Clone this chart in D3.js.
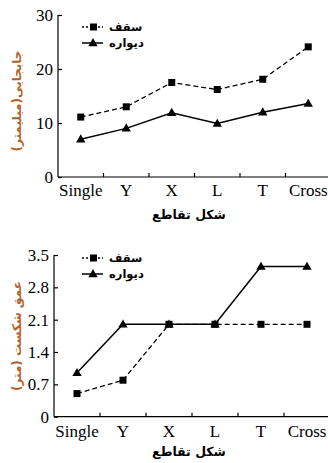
<!DOCTYPE html>
<html><head><meta charset="utf-8">
<script src="https://cdn.jsdelivr.net/npm/d3@7"></script>
<style>
html,body{margin:0;padding:0;background:#fff;}
svg{display:block;}
</style></head>
<body>
<svg id="c" width="328" height="463"></svg>
<script>
// Intersection shapes along the x axis
const categories = ["Single", "Y", "X", "L", "T", "Cross"];

// Upper panel: displacement (mm)
const dispRoof = [11.1, 13.0, 17.5, 16.2, 18.1, 24.1];
const dispWall = [7.0, 9.0, 11.9, 9.9, 12.0, 13.6];
const dispTicks = [0, 10, 20, 30];

// Lower panel: failure depth (m)
const depthRoof = [0.5, 0.79, 2.0, 2.0, 2.0, 2.0];
const depthWall = [0.95, 2.0, 2.0, 2.0, 3.25, 3.25];
const depthTicks = [0, 0.7, 1.4, 2.1, 2.8, 3.5];

const seriesNames = ["سقف", "دیواره"];
const xTitle = "شکل تقاطع";
const yTitleTop = "جابجایی(میلیمتر)";
const yTitleBottom = "عمق شکست (متر)";

const svg = d3.select("#c");
const serif = "'Liberation Serif','Times New Roman',serif";
const fa = "'DejaVu Sans',sans-serif";

function panel(cfg) {
  const g = svg.append("g");
  const x = d3.scaleBand().domain(categories).range([cfg.left, cfg.right]);
  const y = d3.scaleLinear().domain(cfg.domain).range([cfg.bottom, cfg.top]);
  const cx = d => x(d) + x.bandwidth() / 2;

  // y axis with inward ticks
  const ya = g.append("g").attr("transform", `translate(${cfg.left},0)`)
    .call(d3.axisRight(y).tickValues(cfg.ticks).tickSize(4).tickFormat(cfg.fmt));
  ya.select(".domain").attr("d", `M0,${cfg.bottom}V${cfg.top}`).attr("stroke", "#000").attr("stroke-width", 1.2);
  ya.selectAll(".tick line").attr("stroke", "#000").attr("stroke-width", 1.2);
  ya.selectAll(".tick text").attr("x", -5).attr("text-anchor", "end")
    .style("font-family", serif).attr("font-size", 17).attr("fill", "#000");

  // x axis: ticks between categories, pointing up
  const xa = g.append("g").attr("transform", `translate(0,${cfg.bottom})`);
  xa.append("path").attr("d", `M${cfg.left},0H${cfg.right}`).attr("stroke", "#000").attr("stroke-width", 1.2);
  xa.selectAll("line.bt").data(categories.slice(1)).join("line")
    .attr("x1", d => x(d)).attr("x2", d => x(d)).attr("y1", 0).attr("y2", -4)
    .attr("stroke", "#000").attr("stroke-width", 1.2);
  xa.selectAll("text").data(categories).join("text")
    .attr("x", cx).attr("y", cfg.labelDy).attr("text-anchor", "middle")
    .style("font-family", serif).attr("font-size", 17).text(d => d);

  const line = d3.line().x((d, i) => cx(categories[i])).y(d => y(d));

  // roof: dashed with squares
  g.append("path").datum(cfg.roof).attr("d", line).attr("fill", "none")
    .attr("stroke", "#000").attr("stroke-width", 1.3).attr("stroke-dasharray", "5,3");
  g.selectAll("rect.m").data(cfg.roof).join("rect").attr("class", "m")
    .attr("x", (d, i) => cx(categories[i]) - 3.5).attr("y", d => y(d) - 3.5)
    .attr("width", 7).attr("height", 7).attr("fill", "#000");

  // wall: solid with triangles
  g.append("path").datum(cfg.wall).attr("d", line).attr("fill", "none")
    .attr("stroke", "#000").attr("stroke-width", 1.5);
  const tri = d3.symbol().type(d3.symbolTriangle).size(38);
  g.selectAll("path.t").data(cfg.wall).join("path").attr("class", "t")
    .attr("d", tri).attr("transform", (d, i) => `translate(${cx(categories[i])},${y(d) + 0.5})`)
    .attr("fill", "#000");

  // legend
  const lg = g.append("g");
  const ly = [cfg.legY, cfg.legY + 16];
  lg.append("line").attr("x1", 82).attr("x2", 103).attr("y1", ly[0]).attr("y2", ly[0])
    .attr("stroke", "#000").attr("stroke-width", 1.3).attr("stroke-dasharray", "2,2");
  lg.append("rect").attr("x", 90).attr("y", ly[0] - 3.5).attr("width", 7).attr("height", 7).attr("fill", "#000");
  lg.append("line").attr("x1", 82).attr("x2", 103).attr("y1", ly[1]).attr("y2", ly[1])
    .attr("stroke", "#000").attr("stroke-width", 1.5);
  lg.append("path").attr("d", tri).attr("transform", `translate(93,${ly[1] + 0.5})`).attr("fill", "#000");
  lg.selectAll("text").data(seriesNames).join("text")
    .attr("x", 109).attr("y", (d, i) => ly[i] + 4)
    .style("font-family", fa).attr("font-weight", "bold").attr("font-size", 11.5).text(d => d);

  // axis titles
  g.append("text").attr("x", 189).attr("y", cfg.xTitleY)
    .attr("text-anchor", "middle").style("font-family", fa).attr("font-weight", "bold")
    .attr("font-size", 12.5).text(xTitle);
  g.append("text").attr("transform", `translate(${cfg.yTitleX},${cfg.yTitleC}) rotate(-90)`)
    .attr("text-anchor", "middle").style("font-family", fa).attr("font-weight", "bold")
    .attr("font-size", 12).attr("fill", "#b0622a").text(cfg.yTitle);
}

panel({
  left: 58, right: 331, top: 15, bottom: 177, domain: [0, 30], ticks: dispTicks,
  fmt: d3.format("d"), roof: dispRoof, wall: dispWall, labelDy: 19,
  legY: 27, xTitleY: 219, yTitleX: 21, yTitleC: 101, yTitle: yTitleTop
});
panel({
  left: 54, right: 330, top: 255, bottom: 416.7, domain: [0, 3.5], ticks: depthTicks,
  fmt: d => d === 0 ? "0" : d3.format(".1f")(d), roof: depthRoof, wall: depthWall, labelDy: 20,
  legY: 258, xTitleY: 456, yTitleX: 21, yTitleC: 336, yTitle: yTitleBottom
});
</script>
</body></html>
